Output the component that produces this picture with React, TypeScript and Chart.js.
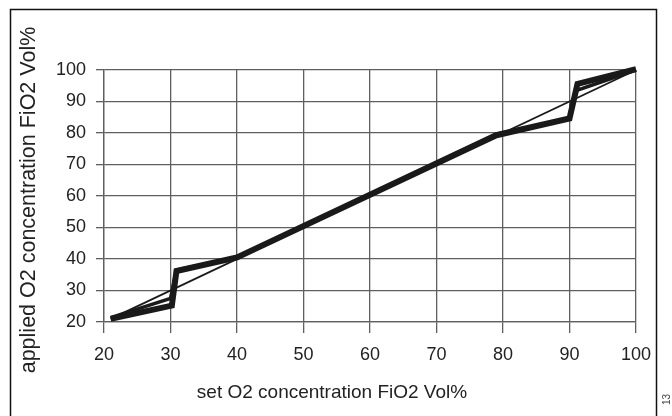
import React, { useEffect, useRef } from "react";
import { Chart, registerables } from "chart.js";
Chart.register(...registerables);

const xTicks = [20, 30, 40, 50, 60, 70, 80, 90, 100];
const yTicks = [20, 30, 40, 50, 60, 70, 80, 90, 100];

// thick measured band (outer edge)
const thickX = [21, 30.2, 30.9, 40, 79, 90, 91.2, 100];
const thickY = [21, 25.2, 36.2, 40.5, 79.3, 84.6, 95.6, 100.3];
// thinner inner edge of the band
const thinX = [21, 30, 30.9, 40, 79, 90, 91, 100];
const thinY = [21.4, 27.5, 36.5, 40.5, 79.6, 84.6, 93.5, 100];
// ideal line
const idealX = [21, 100];
const idealY = [21, 100];

const xTitle = "set O2 concentration FiO2 Vol%";
const yTitle = "applied O2 concentration FiO2 Vol%";
const cornerNote = "13";

const FONT = "'Liberation Sans', Arial, Helvetica, sans-serif";

const pts = (xs: number[], ys: number[]) => xs.map((x, i) => ({ x, y: ys[i] }));

const framePlugin = {
  id: "frame",
  afterDraw(chart: any) {
    const ctx = chart.ctx;
    ctx.save();
    ctx.strokeStyle = "#111";
    ctx.lineWidth = 1.5;
    ctx.beginPath();
    ctx.moveTo(10.5, 420);
    ctx.lineTo(10.5, 9.5);
    ctx.lineTo(656.5, 9.5);
    ctx.lineTo(656.5, 420);
    ctx.stroke();

    // axis titles
    ctx.fillStyle = "#222";
    ctx.textAlign = "center";
    ctx.textBaseline = "middle";
    ctx.font = "19px " + FONT;
    ctx.fillText(xTitle, 332, 393);
    ctx.save();
    ctx.translate(29, 200);
    ctx.rotate(-Math.PI / 2);
    ctx.font = "21.5px " + FONT;
    ctx.fillText(yTitle, 0, 0);
    ctx.restore();

    ctx.translate(667, 405);
    ctx.rotate(-Math.PI / 2);
    ctx.fillStyle = "#444";
    ctx.font = "10px 'Liberation Sans', Arial, sans-serif";
    ctx.textBaseline = "middle";
    ctx.textAlign = "left";
    ctx.fillText(cornerNote, 0, 0);
    ctx.restore();
  },
};

export default function App() {
  const ref = useRef<HTMLCanvasElement | null>(null);
  useEffect(() => {
    document.body.style.margin = "0";
    const canvas = ref.current!;
    const gridColor = "#5f5f5f";
    const chart = new Chart(canvas, {
      type: "scatter",
      data: {
        datasets: [
          {
            data: pts(idealX, idealY),
            showLine: true,
            borderColor: "#1a1a1a",
            borderWidth: 1.8,
            pointRadius: 0,
            clip: 8,
          } as any,
          {
            data: pts(thinX, thinY),
            showLine: true,
            borderColor: "#1a1a1a",
            borderWidth: 3.5,
            pointRadius: 0,
            borderJoinStyle: "miter",
            clip: 8,
          } as any,
          {
            data: pts(thickX, thickY),
            showLine: true,
            borderColor: "#1a1a1a",
            borderWidth: 6,
            pointRadius: 0,
            borderJoinStyle: "miter",
            clip: 8,
          } as any,
        ],
      },
      options: {
        animation: false,
        responsive: false,
        maintainAspectRatio: false,
        layout: { padding: { left: 0, right: 36, top: 70, bottom: 0 } },
        plugins: { legend: { display: false }, tooltip: { enabled: false } },
        scales: {
          x: {
            type: "linear",
            min: 20,
            max: 100,
            afterBuildTicks: (s: any) => {
              s.ticks = xTicks.map((v) => ({ value: v }));
            },
            afterFit: (s: any) => {
              s.height = 94;
            },
            grid: { color: gridColor, lineWidth: 1.3, tickLength: 11, drawTicks: true },
            border: { color: gridColor, width: 1.3 },
            ticks: {
              color: "#222",
              padding: 11,
              font: { family: FONT, size: 18 },
              maxRotation: 0,
            },
          },
          y: {
            type: "linear",
            min: 20,
            max: 100,
            afterBuildTicks: (s: any) => {
              s.ticks = yTicks.map((v) => ({ value: v }));
            },
            afterFit: (s: any) => {
              s.width = 104;
            },
            grid: { color: gridColor, lineWidth: 1.3, tickLength: 8, drawTicks: true },
            border: { color: gridColor, width: 1.3 },
            ticks: {
              color: "#222",
              padding: 10,
              font: { family: FONT, size: 18 },
            },
          },
        },
      },
      plugins: [framePlugin],
    } as any);
    return () => chart.destroy();
  }, []);
  return (
    <div style={{ width: 672, height: 416 }}>
      <canvas ref={ref} width={672} height={416} style={{ display: "block" }} />
    </div>
  );
}
